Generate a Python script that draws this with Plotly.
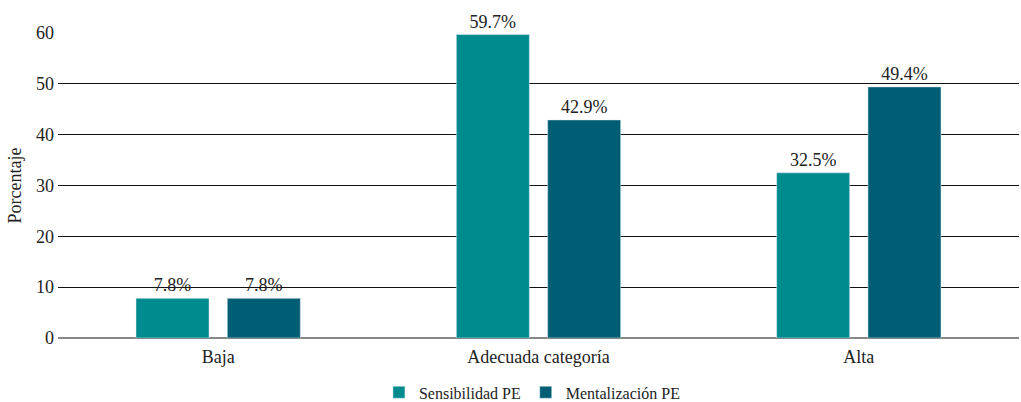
import plotly.graph_objects as go

categories = ["Baja", "Adecuada categoría", "Alta"]
sensibilidad = [7.8, 59.7, 32.5]
mentalizacion = [7.8, 42.9, 49.4]
series_names = ["Sensibilidad PE", "Mentalización PE"]
y_ticks = [0, 10, 20, 30, 40, 50, 60]

FONT = "Liberation Serif, Times New Roman, serif"

fig = go.Figure()
fig.add_trace(go.Bar(
    x=categories, y=sensibilidad, name=series_names[0],
    marker_color="#008B8F",
    text=[f"{v}%" for v in sensibilidad], textposition="outside",
    textfont=dict(family=FONT, size=18, color="#222"), cliponaxis=False,
))
fig.add_trace(go.Bar(
    x=categories, y=mentalizacion, name=series_names[1],
    marker_color="#005E74",
    text=[f"{v}%" for v in mentalizacion], textposition="outside",
    textfont=dict(family=FONT, size=18, color="#222"), cliponaxis=False,
))

fig.update_layout(
    width=1021, height=402,
    margin=dict(l=58, r=2, t=33, b=64, autoexpand=False),
    plot_bgcolor="white", paper_bgcolor="white",
    barmode="group", bargap=0.43, bargroupgap=0.2,
    font=dict(family=FONT, size=18, color="#222"),
    showlegend=True,
    legend=dict(orientation="h", xref="container", yref="container",
                x=0.521, xanchor="center", y=0.024, yanchor="middle",
                font=dict(family=FONT, size=16, color="#222"),
                traceorder="normal"),
    uniformtext=dict(minsize=10, mode="show"),
)
fig.update_xaxes(showgrid=False, showline=False, ticks="", tickfont=dict(size=18),
                 automargin=False, ticklabelstandoff=6)
fig.update_yaxes(
    range=[0, 60], tickvals=y_ticks, showgrid=True, gridcolor="#111", gridwidth=1,
    zeroline=True, zerolinecolor="#888", zerolinewidth=2,
    title=dict(text="Porcentaje", font=dict(size=18), standoff=9),
    tickfont=dict(size=18), ticks="", automargin=False, ticklabelstandoff=3,
)
fig.write_html("out.html", config={"displayModeBar": False},
               post_script="document.body.style.margin='0';document.body.style.overflow='hidden';")
